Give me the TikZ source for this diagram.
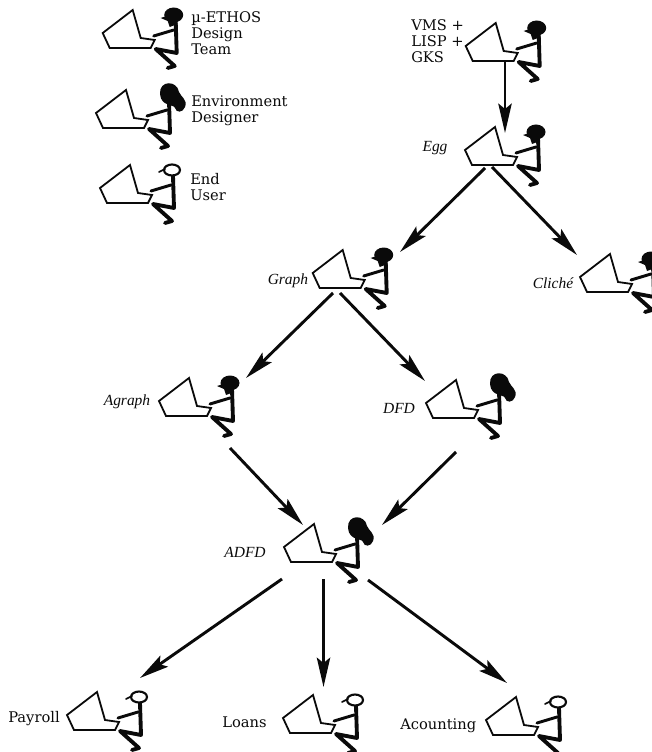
\documentclass[tikz,border=0pt]{standalone}
\usepackage{fontspec}
\setmainfont{DejaVu Serif}
\newfontfamily\stagefont{Liberation Serif}
\usepackage{tikz}
\usetikzlibrary{arrows.meta}
\definecolor{cInk}{RGB}{10,10,10}
\tikzset{
  box/.style={draw=cInk,line width=1.35pt,line join=miter},
  limb/.style={draw=cInk,line width=2.2pt,line cap=round,line join=round},
  arm/.pic={
    \draw[box,fill=white] (0,0)--(30,-23)--(38,5)--(52,7)--(48,15)--(7,15)--cycle;
    \draw[limb] (51,3)--(71,-3);
    \draw[limb,line width=2.9pt] (73,-12)--(74,20)--(53,16)--(72,33)--(65,35);
  },
  man/.pic={
    \pic {arm};
    \fill[cInk] (71,-18) ellipse (9.5 and 7.5);
    \fill[cInk] (58,-15)--(70,-19)--(75,-9)--(67,-6)--(65,-12)--cycle;
  },
  woman/.pic={
    \pic {arm};
    \fill[cInk] (64,-19) .. controls (63,-33) and (81,-33) .. (83,-21)
      .. controls (85,-16) and (92,-13) .. (89,-6)
      .. controls (87,0) and (80,0) .. (79,-5)
      .. controls (78,-9) and (65,-6) .. (64,-19)--cycle;
  },
  user/.pic={
    \pic {arm};
    \draw[limb,line width=1.6pt,fill=white] (72,-18) ellipse (8 and 5.5);
    \draw[limb,line width=1.3pt] (59,-16)--(65,-19);
  }
}
\begin{document}
\begin{tikzpicture}[
   x=0.75pt,y=-0.75pt,
   tag/.style={font=\fontsize{11}{12}\selectfont,align=left,anchor=west,inner sep=0pt,text=cInk},
   stage/.style={font=\stagefont\itshape\fontsize{11.6}{13}\selectfont,inner sep=0pt,text=cInk},
   flow/.style={draw=cInk,line width=2.2pt,-{Stealth[length=22pt,width=10pt,inset=4pt]}}]
  \clip (0,0) rectangle (652,752);
  \useasboundingbox (0,0) rectangle (652,752);
  % Legend
  \pic at (102.7,33) {man};
  \pic at (96,113) {woman};
  \pic at (100,188) {user};
  \node[tag] (team) at (191,33) {µ-ETHOS\\Design\\Team};
  \node[tag] (envir) at (191,110.5) {Environment\\Designer};
  \node[tag] (enduser) at (190,187.5) {End\\User};
  % Tools
  \pic at (465.7,46) {man};
  \pic at (465,150) {man};
  \pic at (580,277) {man};
  \pic at (312.7,273) {man};
  \pic at (159,401) {man};
  \node[tag] (vms) at (411,41) {VMS +\\LISP +\\GKS};
  \node[stage] (egg) at (435,148) {Egg};
  \node[stage] (cliche) at (553,283) {Cliché};
  \node[stage] (graph) at (288,281) {Graph};
  \node[stage] (agraph) at (127,402) {Agraph};
  % Hair
  \pic at (426,403) {woman};
  \pic at (284,547) {woman};
  \node[stage] (dfd) at (399,408) {DFD};
  \node[stage] (adfd) at (245,552) {ADFD};
  % Applications
  \pic at (67,715) {user};
  \pic at (283,718) {user};
  \pic at (486,720) {user};
  \node[tag] (payroll) at (8,719) {Payroll};
  \node[tag] (loans) at (222,722) {Loans};
  \node[tag] (acount) at (400,726) {Acounting};
  % Arrow ends
  \coordinate (vmsOut) at (505,62);     \coordinate (eggIn) at (505,133);
  \coordinate (eggL) at (485,168);      \coordinate (graphIn) at (400,252);
  \coordinate (eggR) at (492,167);      \coordinate (clicheIn) at (577,255);
  \coordinate (graphL) at (333,293);    \coordinate (agraphIn) at (246,378);
  \coordinate (graphR) at (340,293);    \coordinate (dfdIn) at (425,381);
  \coordinate (agraphOut) at (230,448); \coordinate (adfdInL) at (303,525);
  \coordinate (dfdOut) at (456,452);    \coordinate (adfdInR) at (382,525);
  \coordinate (adfdL) at (282,579);     \coordinate (payrollIn) at (140,678);
  \coordinate (adfdM) at (323.5,579);   \coordinate (loansIn) at (323.5,687);
  \coordinate (adfdR) at (368,580);     \coordinate (acountIn) at (507,683);
  \draw[flow] (vmsOut)--(eggIn);
  \draw[flow] (eggL)--(graphIn);
  \draw[flow] (eggR)--(clicheIn);
  \draw[flow] (graphL)--(agraphIn);
  \draw[flow] (graphR)--(dfdIn);
  \draw[flow] (agraphOut)--(adfdInL);
  \draw[flow] (dfdOut)--(adfdInR);
  \draw[flow] (adfdL)--(payrollIn);
  \draw[flow] (adfdM)--(loansIn);
  \draw[flow] (adfdR)--(acountIn);
\end{tikzpicture}
\end{document}
